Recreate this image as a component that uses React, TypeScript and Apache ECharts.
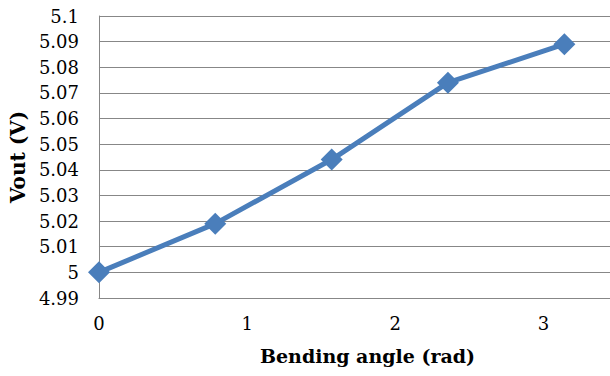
import React, { useEffect, useRef } from "react";
import * as echarts from "echarts";

// Bending angle (rad) vs output voltage
const angles = [0, 0.785, 1.571, 2.356, 3.142];
const vout = [5.0, 5.019, 5.044, 5.074, 5.089];

const xTicks = { min: 0, max: 3.45, interval: 1 };
const yTicks = { min: 4.99, max: 5.1, interval: 0.01 };

const SERIF = "DejaVu Serif";
const GRID_GREY = "#878787";
const LINE_BLUE = "#4a7ebb";

export default function App() {
  const ref = useRef<HTMLDivElement>(null);

  useEffect(() => {
    if (!ref.current) return;
    const chart = echarts.init(ref.current, undefined, { renderer: "svg" });
    chart.setOption({
      animation: false,
      backgroundColor: "#ffffff",
      textStyle: { fontFamily: SERIF },
      grid: { left: 98, top: 16, bottom: 78, right: 0 },
      xAxis: {
        type: "value",
        min: xTicks.min,
        max: xTicks.max,
        interval: xTicks.interval,
        name: "Bending angle (rad)",
        nameLocation: "middle",
        nameGap: 48,
        nameTextStyle: {
          fontFamily: SERIF,
          fontSize: 19,
          fontWeight: "bold",
          color: "#000",
          padding: [0, 0, 0, 26],
        },
        axisLine: { show: true, lineStyle: { color: GRID_GREY, width: 1 } },
        axisTick: { show: false },
        splitLine: { show: false },
        axisLabel: {
          fontFamily: SERIF,
          fontSize: 18,
          color: "#000",
          margin: 16,
          showMaxLabel: false,
        },
      },
      yAxis: {
        type: "value",
        min: yTicks.min,
        max: yTicks.max,
        interval: yTicks.interval,
        name: "Vout (V)",
        nameLocation: "middle",
        nameGap: 67,
        nameTextStyle: {
          fontFamily: SERIF,
          fontSize: 20,
          fontWeight: "bold",
          color: "#000",
        },
        axisLine: { show: true, lineStyle: { color: GRID_GREY, width: 1 } },
        axisTick: { show: false },
        splitLine: { show: true, lineStyle: { color: GRID_GREY, width: 1 } },
        axisLabel: {
          fontFamily: SERIF,
          fontSize: 18,
          color: "#000",
          margin: 20,
        },
      },
      series: [
        {
          type: "line",
          data: angles.map((a, i) => [a, vout[i]]),
          symbol: "diamond",
          symbolSize: 22,
          lineStyle: { color: LINE_BLUE, width: 5 },
          itemStyle: { color: LINE_BLUE },
        },
      ],
    });
    return () => chart.dispose();
  }, []);

  return (
    <div
      ref={ref}
      style={{ position: "fixed", left: 0, top: 0, width: 610, height: 376 }}
    />
  );
}
